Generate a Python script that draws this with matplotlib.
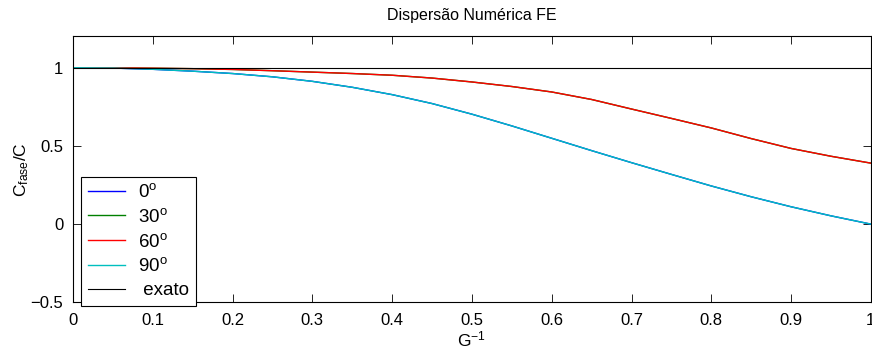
import matplotlib
matplotlib.use("Agg")
import matplotlib.pyplot as plt

plt.rcParams['font.family'] = ['Liberation Sans', 'DejaVu Sans']
plt.rcParams['mathtext.fontset'] = 'custom'
plt.rcParams['mathtext.rm'] = 'Liberation Sans'
plt.rcParams['mathtext.it'] = 'Liberation Sans:italic'

# G^-1 sample points
g_inv = [0.0, 0.05, 0.1, 0.15, 0.2, 0.25, 0.3, 0.35, 0.4, 0.45, 0.5,
         0.55, 0.6, 0.65, 0.7, 0.75, 0.8, 0.85, 0.9, 0.95, 1.0]

# 0 and 90 degrees coincide, as do 30 and 60
c_0 = [1.000, 0.998, 0.990, 0.978, 0.963, 0.942, 0.913, 0.875, 0.828, 0.771, 0.703,
       0.628, 0.549, 0.470, 0.393, 0.318, 0.244, 0.175, 0.111, 0.053, 0.000]
c_30 = [1.000, 0.999, 0.997, 0.994, 0.989, 0.981, 0.972, 0.963, 0.952, 0.934, 0.909,
        0.880, 0.845, 0.797, 0.736, 0.676, 0.615, 0.547, 0.484, 0.434, 0.390]
c_60 = list(c_30)
c_90 = list(c_0)

exato_x = [0.0, 1.0]
exato_y = [1.0, 1.0]

fig = plt.figure(figsize=(8.72, 3.54), dpi=100)
ax = fig.add_axes([0.0837, 0.146, 0.915, 0.751])

ax.plot(g_inv, c_0, color=(0, 0, 1), lw=1.0, label='0$^{\\mathrm{o}}$')
ax.plot(g_inv, c_30, color=(0, 0.5, 0), lw=1.0, label='30$^{\\mathrm{o}}$')
ax.plot(g_inv, c_60, color=(1, 0, 0), lw=1.0, label='60$^{\\mathrm{o}}$')
ax.plot(g_inv, c_90, color=(0, 0.75, 0.75), lw=1.0, label='90$^{\\mathrm{o}}$')
ax.plot(exato_x, exato_y, color='k', lw=0.8, label=' exato')

ax.set_xlim(0, 1)
ax.set_ylim(-0.5, 1.2)
ax.set_xticks([0, 0.1, 0.2, 0.3, 0.4, 0.5, 0.6, 0.7, 0.8, 0.9, 1])
ax.set_xticklabels(['0', '0.1', '0.2', '0.3', '0.4', '0.5', '0.6', '0.7', '0.8', '0.9', '1'])
ax.set_yticks([-0.5, 0, 0.5, 1])
ax.set_yticklabels(['\u22120.5', '0', '0.5', '1'])
ax.tick_params(direction='in', length=5.8, width=0.6, top=True, right=True,
               labelsize=12)
ax.tick_params(axis='x', pad=8)
ax.tick_params(axis='y', pad=7)
for s in ax.spines.values():
    s.set_linewidth(0.8)

ax.set_title('Dispersão Numérica FE', fontsize=11.5, pad=12)
ax.set_xlabel('G$^{\\mathrm{-1}}$', fontsize=12.5, labelpad=1)
ax.set_ylabel('C$_{\\mathrm{fase}}$/C', fontsize=12.5, labelpad=0)

leg = ax.legend(loc='lower left', bbox_to_anchor=(0.010, -0.013), borderaxespad=0,
                fancybox=False, edgecolor='k', framealpha=1, fontsize=13.5,
                handlelength=2.0, labelspacing=0.36, borderpad=0.35, handletextpad=0.7)
leg.get_frame().set_linewidth(0.8)

fig.savefig('out.png', dpi=100)
